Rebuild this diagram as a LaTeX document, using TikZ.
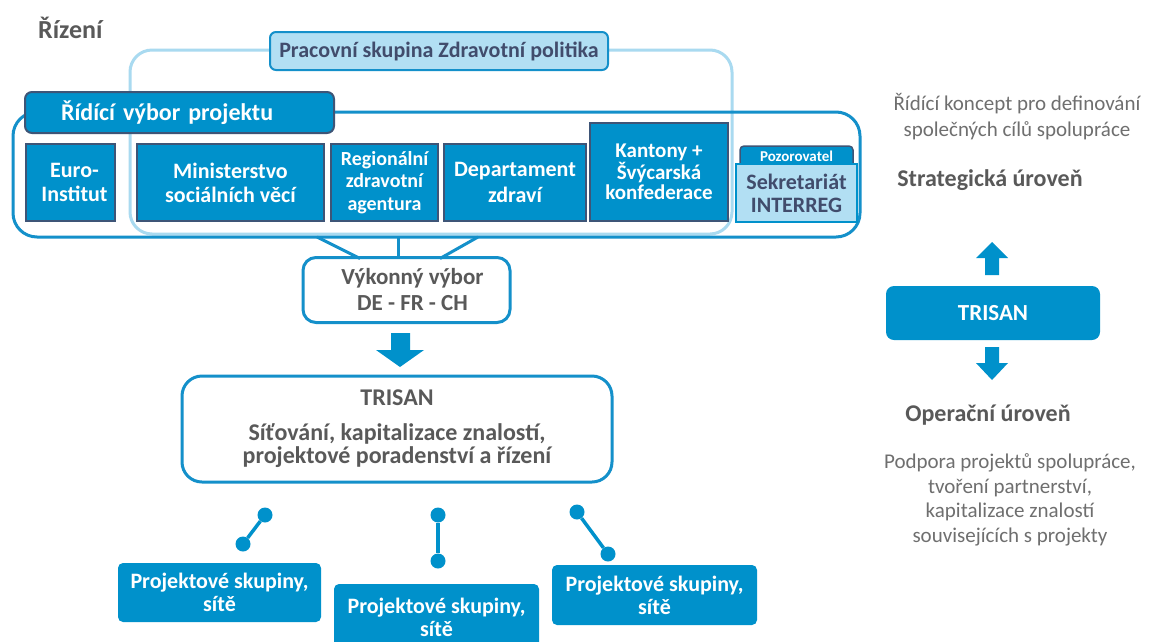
\documentclass[tikz,border=0pt]{standalone}
\usepackage{fontspec}
\setmainfont{Carlito}
\usetikzlibrary{calc}
\definecolor{mblue}{HTML}{0091CB}
\definecolor{oblue}{HTML}{1490CA}
\definecolor{lline}{HTML}{A9DAF0}
\definecolor{lfill}{HTML}{B2DFF3}
\definecolor{slate}{HTML}{3E5577}
\definecolor{tgray}{HTML}{595959}
\definecolor{lgray}{HTML}{6F6F6F}
\definecolor{dslate}{HTML}{414C6C}
\newcommand\myfs[2]{\fontsize{#1}{#2}\selectfont}
\tikzset{
  wbox/.style={draw=oblue, line width=3pt, fill=white, text=tgray, align=center, inner sep=0pt},
  member/.style={draw=slate, line width=1.5pt, fill=mblue, text=white, align=center, inner sep=0pt, font=\myfs{22}{24}\bfseries},
  pbox/.style={fill=mblue, rounded corners=5pt, text=white, align=center, inner sep=0pt, font=\myfs{22}{23}\bfseries},
  conn/.style={draw=oblue, line width=3pt},
  dot/.style={circle, fill=mblue, inner sep=0pt, minimum size=15pt},
  dumb/.style={draw=mblue, line width=3.5pt},
  blockarrow/.style={fill=mblue},
}
\begin{document}
\begin{tikzpicture}[x=1pt,y=-1pt]
\useasboundingbox (0,0) rectangle (1149,641);
\fill[white] (0,0) rectangle (1149,641);

% title
\node[anchor=west, text=tgray, font=\myfs{26}{28}\bfseries, inner sep=0pt] (rizeni) at (38,28) {Řízení};

% group outlines
\node[draw=lline, line width=3pt, rounded corners=22pt, minimum width=602pt, minimum height=184pt, inner sep=0pt] (pracgrp) at (431,142) {};
\node[draw=oblue, line width=3pt, rounded corners=24pt, minimum width=847pt, minimum height=125pt, inner sep=0pt] (ridgrp) at (436.5,174.5) {};

% labels
\node[draw=oblue, line width=2pt, fill=lfill, rounded corners=6pt, minimum width=338pt, minimum height=38pt, inner sep=0pt, text=dslate, font=\myfs{22}{24}\bfseries] (prac) at (439,51) {Pracovní skupina Zdravotní politika};
\node[draw=slate, line width=2pt, fill=mblue, rounded corners=7pt, minimum width=309pt, minimum height=41pt, inner sep=0pt, text=white, font=\myfs{24}{26}\bfseries, text width=237pt, align=left] (ridlabel) at (179.5,112.5) {Řídící výbor projektu};

% members
\node[member, minimum width=89pt, minimum height=77pt] (euro) at (70.5,182.5) {\hspace*{8pt}Euro-\\\hspace*{8pt}Institut};
\node[member, minimum width=187pt, minimum height=77pt] (mini) at (230.5,182.5) {Ministerstvo\\sociálních věcí};
\node[member, minimum width=107pt, minimum height=77pt, font=\myfs{20}{22.5}\bfseries] (regio) at (384.5,182.5) {Regionální\\zdravotní\\agentura};
\node[member, minimum width=142pt, minimum height=77pt, font=\myfs{22}{26}\bfseries] (depart) at (515,182.5) {Departament\\zdraví};
\node[member, minimum width=138pt, minimum height=98pt, font=\myfs{21}{20}\bfseries] (kanton) at (659,172) {Kantony +\\Švýcarská\\konfederace};
\node[member, rounded corners=4pt, minimum width=113pt, minimum height=24pt, font=\myfs{15}{16}\bfseries] (pozor) at (796.5,158) {\raisebox{3pt}{Pozorovatel}};
\node[draw=mblue, line width=2pt, fill=lfill, minimum width=121pt, minimum height=58pt, inner sep=0pt, align=center, text=dslate, font=\myfs{22}{23}\bfseries] (sekr) at (796.5,193) {Sekretariát\\INTERREG};

% connectors to executive committee
\node[wbox, rounded corners=13pt, minimum width=207pt, minimum height=65pt, font=\myfs{23}{26}\bfseries] (vyk) at (406.5,290) {\hspace*{12pt}Výkonný výbor\\\hspace*{12pt}DE - FR - CH};
\coordinate (a1) at (317,237);
\coordinate (a2) at (398,237);
\coordinate (a3) at (478,237);
\coordinate (b1) at (360,258.5);
\coordinate (b2) at (398,258.5);
\coordinate (b3) at (440,258.5);
\draw[conn] (a1) -- (b1);
\draw[conn] (a2) -- (b2);
\draw[conn] (a3) -- (b3);

% block arrow down
\fill[blockarrow] (391,333) -- (410,333) -- (410,350) -- (424,350) -- (400,367) -- (376,350) -- (391,350) -- cycle;

% TRISAN main
\node[wbox, rounded corners=20pt, minimum width=430pt, minimum height=106pt, font=\myfs{24}{23}\bfseries] (trisan) at (397,429) {TRISAN\\[12pt]Síťování, kapitalizace znalostí,\\projektové poradenství a řízení};

% dumbbells
\node[dot] (l1) at (265,515) {};
\node[dot] (l2) at (243,544) {};
\node[dot] (m1) at (438,515) {};
\node[dot] (m2) at (438,561) {};
\node[dot] (r1) at (577,512) {};
\node[dot] (r2) at (608,554) {};
\draw[dumb] (l1) -- (l2);
\draw[dumb] (m1) -- (m2);
\draw[dumb] (r1) -- (r2);

% project boxes
\node[pbox, minimum width=203pt, minimum height=59pt] (p1) at (219.5,592.5) {Projektové skupiny,\\sítě};
\node[pbox, minimum width=205pt, minimum height=66pt] (p2) at (436.5,617) {Projektové skupiny,\\sítě};
\node[pbox, minimum width=205pt, minimum height=60pt] (p3) at (654.5,595) {Projektové skupiny,\\sítě};

% right side
\node[text=lgray, font=\myfs{21}{26}, align=center, inner sep=0pt] (koncept) at (1017,117) {Řídící koncept pro definování\\společných cílů spolupráce};
\node[text=tgray, font=\myfs{24}{26}\bfseries, inner sep=0pt] (strat) at (990,180) {Strategická úroveň};
\fill[blockarrow] (985,275) -- (999,275) -- (999,258) -- (1008,258) -- (992,242) -- (976,258) -- (985,258) -- cycle;
\node[fill=mblue, rounded corners=8pt, minimum width=214pt, minimum height=54pt, inner sep=0pt, text=white, font=\myfs{23}{26}\bfseries] (trisan2) at (993,313) {TRISAN};
\fill[blockarrow] (985,347) -- (999,347) -- (999,363) -- (1008,363) -- (992,380) -- (976,363) -- (985,363) -- cycle;
\node[text=tgray, font=\myfs{24}{26}\bfseries, inner sep=0pt] (oper) at (988,415) {Operační úroveň};
\node[text=lgray, font=\myfs{21}{24.6}, align=center, inner sep=0pt] (podpora) at (1010,500) {Podpora projektů spolupráce,\\tvoření partnerství,\\kapitalizace znalostí\\souvisejících s projekty};
\end{tikzpicture}
\end{document}
